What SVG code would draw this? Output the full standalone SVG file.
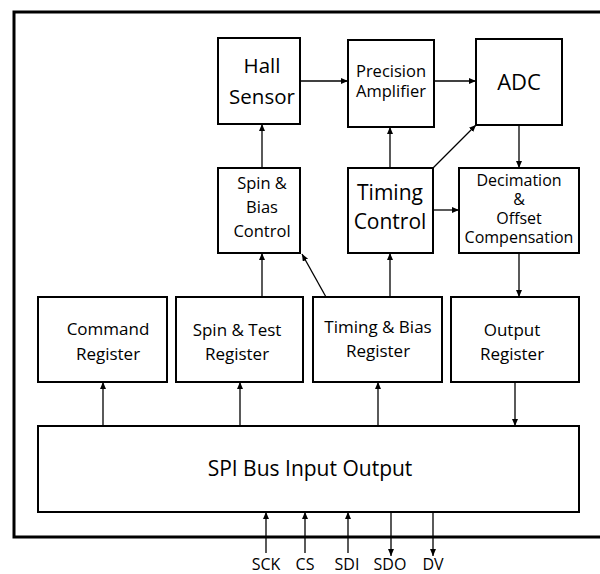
<svg xmlns="http://www.w3.org/2000/svg" width="600" height="574" viewBox="0 0 600 574">
<defs>
<style>
.box{fill:#fff;stroke:#000;stroke-width:2}
.t{font-family:"Open Sans","Liberation Sans",sans-serif;fill:#000;text-anchor:middle}
.c{stroke:#000;stroke-width:1.3;fill:none;marker-end:url(#ah)}
</style>
<marker id="ah" markerWidth="8" markerHeight="8" refX="7" refY="3" orient="auto" markerUnits="userSpaceOnUse">
<path d="M0,0 L7,3 L0,6 z" fill="#000"/>
</marker>
</defs>
<rect width="600" height="574" fill="#fff"/>
<path d="M601,12 H14 V537 H601" fill="none" stroke="#000" stroke-width="3"/>
<g id="connectors">
<line class="c" x1="300" y1="81" x2="348" y2="81"/>
<line class="c" x1="434" y1="81" x2="476" y2="81"/>
<line class="c" x1="262" y1="168" x2="262" y2="124"/>
<line class="c" x1="390" y1="168" x2="390" y2="127"/>
<line class="c" x1="433" y1="168" x2="476" y2="125"/>
<line class="c" x1="519" y1="125" x2="519" y2="168"/>
<line class="c" x1="433" y1="210" x2="459" y2="210"/>
<line class="c" x1="262" y1="297" x2="262" y2="253"/>
<line class="c" x1="326" y1="297" x2="302" y2="254"/>
<line class="c" x1="390" y1="297" x2="390" y2="253"/>
<line class="c" x1="519" y1="253" x2="519" y2="297"/>
<line class="c" x1="103" y1="426" x2="103" y2="382"/>
<line class="c" x1="240" y1="426" x2="240" y2="382"/>
<line class="c" x1="378" y1="426" x2="378" y2="382"/>
<line class="c" x1="515" y1="382" x2="515" y2="426"/>
<line class="c" x1="266" y1="553" x2="266" y2="512"/>
<line class="c" x1="305" y1="553" x2="305" y2="512"/>
<line class="c" x1="348" y1="553" x2="348" y2="512"/>
<line class="c" x1="391" y1="512" x2="391" y2="556"/>
<line class="c" x1="433" y1="512" x2="433" y2="556"/>
</g>
<g id="hall-sensor">
<rect class="box" x="218" y="38" width="82" height="86"/>
<text class="t" x="262" y="73" font-size="20.5">Hall</text>
<text class="t" x="262" y="104" font-size="20.5">Sensor</text>
</g>
<g id="precision-amplifier">
<rect class="box" x="348" y="40" width="86" height="87"/>
<text class="t" x="391" y="77" font-size="16.5">Precision</text>
<text class="t" x="391" y="97" font-size="16.5">Amplifier</text>
</g>
<g id="adc">
<rect class="box" x="476" y="39" width="86" height="86"/>
<text class="t" x="519" y="90" font-size="22">ADC</text>
</g>
<g id="spin-bias-control">
<rect class="box" x="218" y="168" width="82" height="85"/>
<text class="t" x="262" y="189" font-size="16.5">Spin &amp;</text>
<text class="t" x="262" y="213" font-size="16.5">Bias</text>
<text class="t" x="262" y="237" font-size="16.5">Control</text>
</g>
<g id="timing-control">
<rect class="box" x="348" y="168" width="85" height="85"/>
<text class="t" x="390" y="200" font-size="21">Timing</text>
<text class="t" x="390" y="229" font-size="21">Control</text>
</g>
<g id="decimation">
<rect class="box" x="459" y="168" width="120" height="85"/>
<text class="t" x="519" y="186" font-size="16">Decimation</text>
<text class="t" x="519" y="205" font-size="16">&amp;</text>
<text class="t" x="519" y="224" font-size="16">Offset</text>
<text class="t" x="519" y="243" font-size="16">Compensation</text>
</g>
<g id="command-register">
<rect class="box" x="38" y="297" width="129" height="85"/>
<text class="t" x="108" y="335" font-size="17">Command</text>
<text class="t" x="108" y="360" font-size="17">Register</text>
</g>
<g id="spin-test-register">
<rect class="box" x="176" y="297" width="127" height="85"/>
<text class="t" x="237" y="336" font-size="17">Spin &amp; Test</text>
<text class="t" x="237" y="360" font-size="17">Register</text>
</g>
<g id="timing-bias-register">
<rect class="box" x="313" y="297" width="129" height="85"/>
<text class="t" x="378" y="333" font-size="17">Timing &amp; Bias</text>
<text class="t" x="378" y="357" font-size="17">Register</text>
</g>
<g id="output-register">
<rect class="box" x="451" y="297" width="128" height="85"/>
<text class="t" x="512" y="336" font-size="17">Output</text>
<text class="t" x="512" y="360" font-size="17">Register</text>
</g>
<g id="spi-bus">
<rect class="box" x="38" y="426" width="541" height="86"/>
<text class="t" x="310" y="476" font-size="21">SPI Bus Input Output</text>
</g>
<g id="pins">
<text class="t" x="266" y="570" font-size="16">SCK</text>
<text class="t" x="305" y="570" font-size="16">CS</text>
<text class="t" x="347" y="570" font-size="16">SDI</text>
<text class="t" x="390" y="570" font-size="16">SDO</text>
<text class="t" x="433" y="570" font-size="16">DV</text>
</g>
</svg>
